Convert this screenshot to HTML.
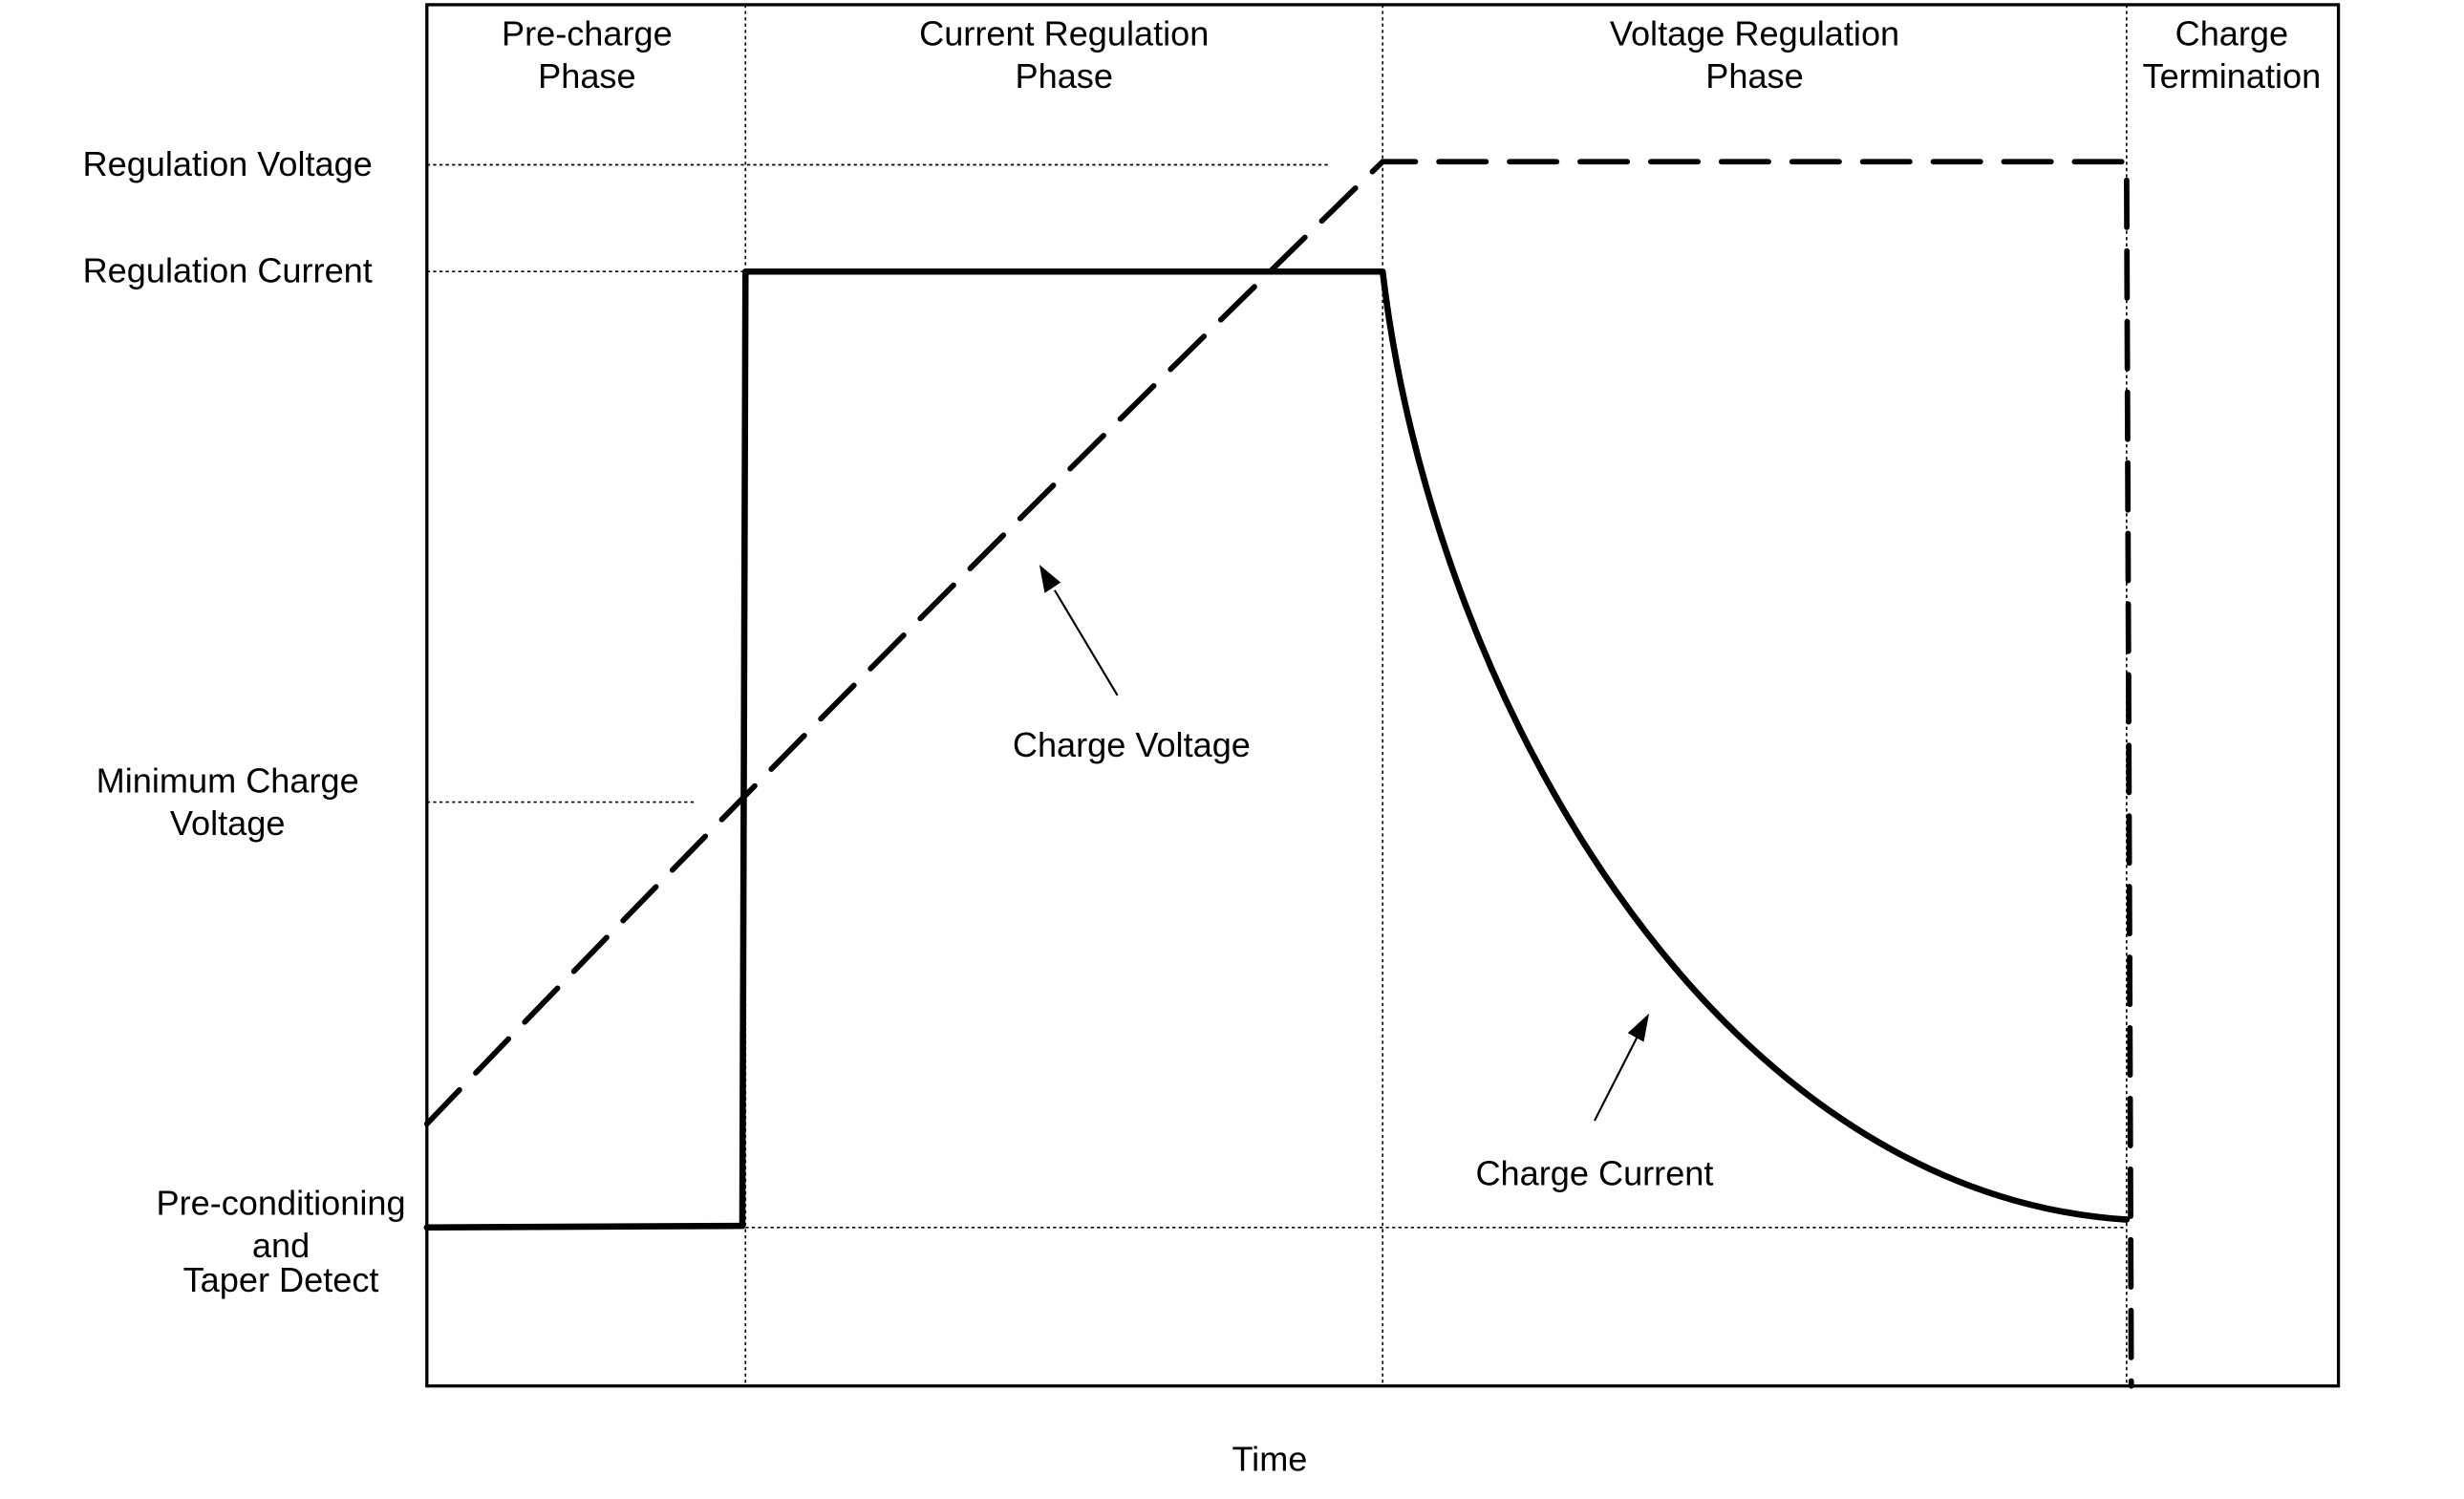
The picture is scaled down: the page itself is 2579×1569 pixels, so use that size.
<!DOCTYPE html>
<html><head><meta charset="utf-8"><style>
html,body{margin:0;padding:0;background:#fff;}
svg{display:block;}
text{font-family:"Liberation Sans",Arial,sans-serif;font-size:22px;fill:#000;}
</style></head><body>
<svg width="2579" height="1569" viewBox="0 0 1570 955" preserveAspectRatio="none" xmlns="http://www.w3.org/2000/svg">
<rect x="272" y="3" width="1218" height="880" fill="none" stroke="#000" stroke-width="2"/>
<g stroke="#000" stroke-width="1" stroke-dasharray="2,2" fill="none">
<line x1="475" y1="3" x2="475" y2="883"/>
<line x1="881" y1="3" x2="881" y2="883"/>
<line x1="1355" y1="3" x2="1355" y2="883"/>
<line x1="272" y1="105" x2="848" y2="105"/>
<line x1="272" y1="173" x2="475" y2="173"/>
<line x1="272" y1="511" x2="442" y2="511"/>
<line x1="475" y1="782" x2="1355" y2="782"/>
</g>
<path d="M272,782 L473,781 L475,173 L881,173 C912,440 1090,760 1355,777" fill="none" stroke="#000" stroke-width="4" stroke-linejoin="round" stroke-linecap="round"/>
<path d="M272,716 Q570,405 881,103 L1355,103 L1358,883" fill="none" stroke="#000" stroke-width="3.5" stroke-dasharray="30,15" stroke-linecap="round"/>
<line x1="712" y1="443" x2="672" y2="376" stroke="#000" stroke-width="1.3"/>
<path d="M663,361 L675,371 L666,377 Z" fill="#000" stroke="#000" stroke-width="1"/>
<line x1="1016" y1="714" x2="1043" y2="661" stroke="#000" stroke-width="1.3"/>
<path d="M1050,647 L1047,663 L1038,658 Z" fill="#000" stroke="#000" stroke-width="1"/>
<g text-anchor="middle">
<text x="374" y="29">Pre-charge</text><text x="374" y="56">Phase</text>
<text x="678" y="29">Current Regulation</text><text x="678" y="56">Phase</text>
<text x="1118" y="29">Voltage Regulation</text><text x="1118" y="56">Phase</text>
<text x="1422" y="29">Charge</text><text x="1422" y="56">Termination</text>
<text x="145" y="112">Regulation Voltage</text>
<text x="145" y="180">Regulation Current</text>
<text x="145" y="505">Minimum Charge</text><text x="145" y="532">Voltage</text>
<text x="179" y="774">Pre-conditioning</text><text x="179" y="801">and</text><text x="179" y="823">Taper Detect</text>
<text x="721" y="482">Charge Voltage</text>
<text x="1016" y="755">Charge Current</text>
<text x="809" y="937">Time</text>
</g>
</svg>
</body></html>
